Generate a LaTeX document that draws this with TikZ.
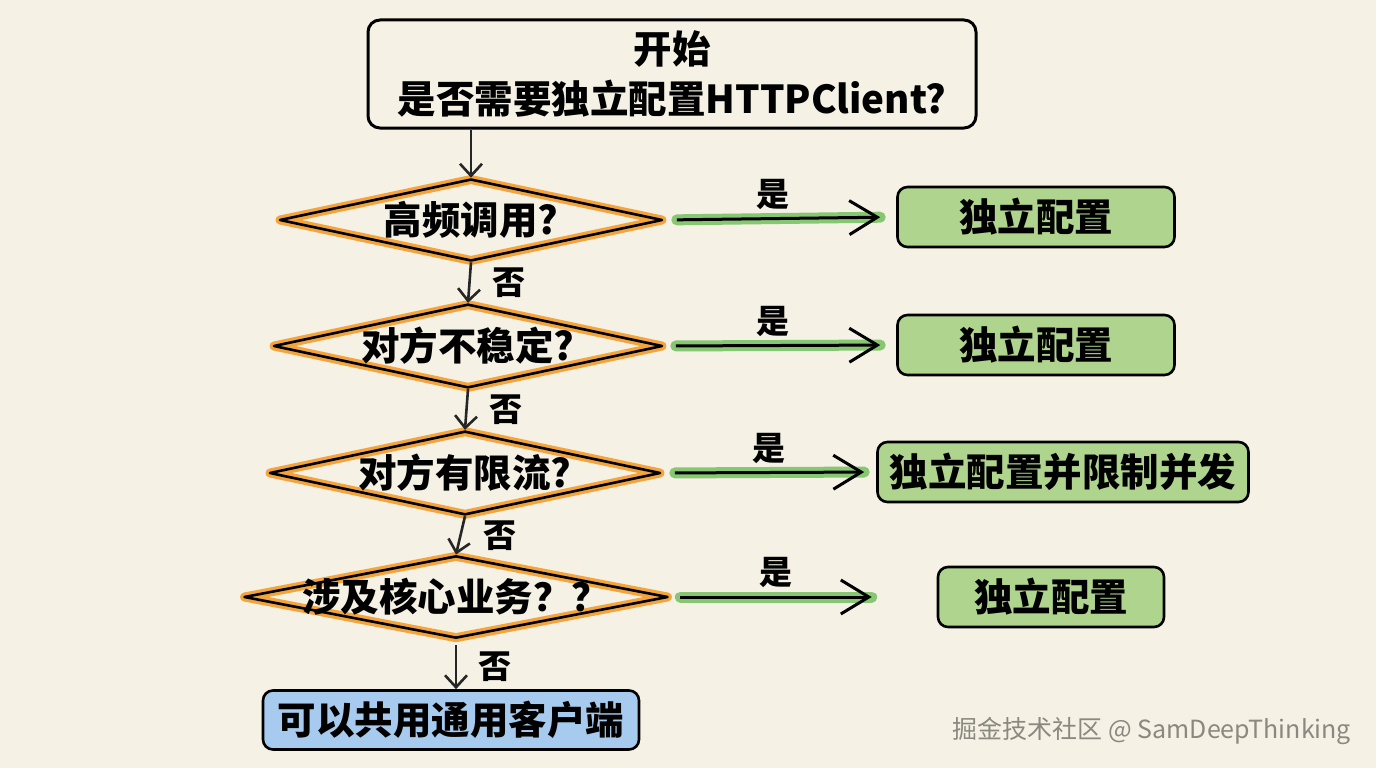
\documentclass[tikz,border=0pt]{standalone}
\usepackage{fontspec}
\setmainfont{Noto Sans CJK SC}
\usepackage{tikz}
\usetikzlibrary{positioning,shapes.geometric,arrows.meta}
\definecolor{paper}{HTML}{F5F1E4}
\definecolor{askorange}{HTML}{F4A43A}
\definecolor{yesgreen}{HTML}{AED48E}
\definecolor{yesline}{HTML}{86C772}
\definecolor{sharedblue}{HTML}{A6CBEE}
\definecolor{markgray}{HTML}{8A8880}

\begin{document}
\begin{tikzpicture}[x=1pt, y=-1pt,
    bigtext/.style={font=\fontsize{38.5}{50}\selectfont\bfseries},
    startnode/.style={rectangle, rounded corners=12pt, draw=black, line width=3pt, align=center, bigtext, minimum width=608pt, minimum height=108pt},
    asknode/.style={diamond, draw=black, line width=2.6pt, line join=round, preaction={draw=askorange, line width=9pt, line join=round}, inner sep=0pt, aspect=4.6, minimum height=82pt, bigtext},
    yesnode/.style={rectangle, rounded corners=10pt, draw=black, line width=2.6pt, fill=yesgreen, minimum height=60pt, bigtext},
    sharednode/.style={rectangle, rounded corners=10pt, draw=black, line width=2.6pt, fill=sharedblue, minimum width=376pt, minimum height=59pt, bigtext},
    noarrow/.style={draw=black!85, line width=2.6pt, -{Straight Barb[length=12pt, width=22pt, line width=2.6pt]}},
    yesarrow/.style={draw=black, line width=3pt, preaction={draw=yesline, line width=11pt, line cap=round, -}, -{Straight Barb[length=28pt, width=34pt, line width=3pt]}},
    arrowlabel/.style={font=\fontsize{33}{34}\selectfont\bfseries}
]
% background
\fill[paper] (0,0) rectangle (1376,768);
\useasboundingbox (0,0) rectangle (1376,768);

% main column
\node[startnode](start) at (672,74){开始\\是否需要独立配置HTTPClient?};
\node[asknode, minimum width=383pt](qfreq) at (471,220){高频调用?};
\node[asknode, minimum width=389pt](qunstable) at (468,346){对方不稳定?};
\node[asknode, minimum width=391pt](qlimit) at (465,473){对方有限流?};
\node[asknode, minimum width=424pt, inner xsep=-50pt](qcore) at (456,597){涉及核心业务？？};
\node[sharednode](shared) at (451,720){可以共用通用客户端};

% answers
\node[yesnode, minimum width=277pt](own1) at (1036,217){独立配置};
\node[yesnode, minimum width=277pt](own2) at (1036,345){独立配置};
\node[yesnode, minimum width=371pt](own3) at (1063,472){独立配置并限制并发};
\node[yesnode, minimum width=226pt](own4) at (1051,597){独立配置};

% watermark
\node[text=markgray, font=\fontsize{25}{30}\selectfont](mark) at (1152,731){掘金技术社区 @ SamDeepThinking};

% no
\draw[noarrow] (qfreq.north |- start.south) -- (qfreq.north);
\draw[noarrow] (qfreq.south) -- node[arrowlabel, right=18pt]{否} (qunstable.north);
\draw[noarrow] (qunstable.south) -- node[arrowlabel, right=18pt]{否} (qlimit.north);
\draw[noarrow] (qlimit.south) -- node[arrowlabel, right=18pt]{否} (qcore.north);
\draw[noarrow] (qcore.south |- 0,645) -- node[arrowlabel, right=18pt]{否} (shared.north -| qcore.south);

% yes
\draw[yesarrow, shorten <=13pt, shorten >=16pt] (qfreq.east) -- node[arrowlabel, above=4pt, pos=0.47]{是} (own1.west);
\draw[yesarrow, shorten <=12pt, shorten >=16pt] (qunstable.east) -- node[arrowlabel, above=4pt, pos=0.47]{是} (own2.west);
\draw[yesarrow, shorten <=13pt, shorten >=12pt] (qlimit.east) -- node[arrowlabel, above=4pt, pos=0.5]{是} (own3.west);
\draw[yesarrow, shorten <=11pt, shorten >=65pt] (qcore.east) -- node[arrowlabel, above=4pt, pos=0.4]{是} (own4.west);
\end{tikzpicture}
\end{document}
